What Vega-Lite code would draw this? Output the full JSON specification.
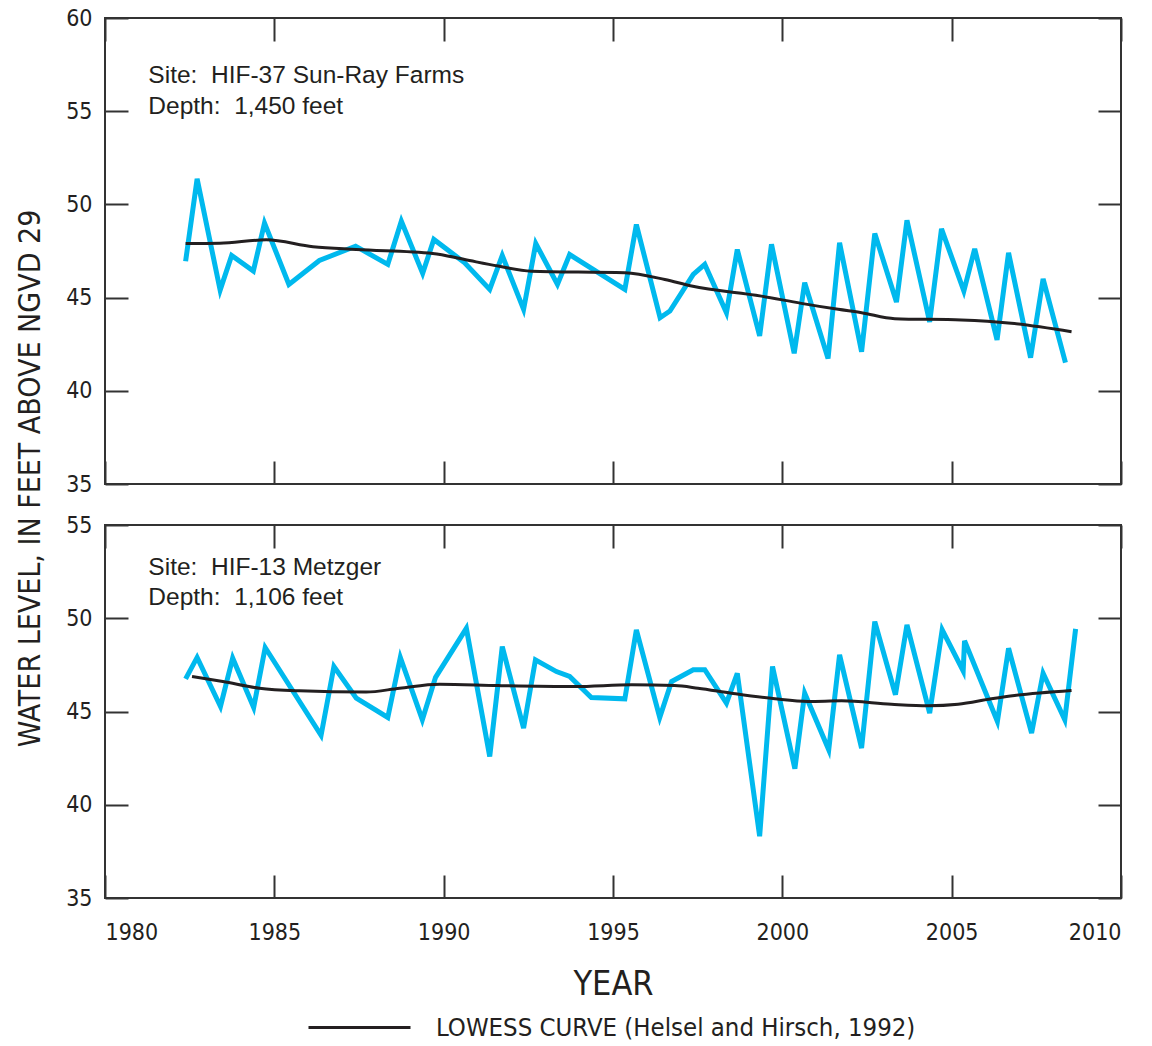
{
  "$schema": "https://vega.github.io/schema/vega-lite/v6.json",
  "background": "white",
  "padding": {"left": 14, "top": 6, "right": 20, "bottom": 0},
  "bounds": "flush",
  "spacing": 41,
  "datasets": {
    "top": [
      {"year": 1982.38, "level": 46.95}, {"year": 1982.72, "level": 51.37}, {"year": 1983.40, "level": 45.40},
      {"year": 1983.74, "level": 47.26}, {"year": 1984.38, "level": 46.42}, {"year": 1984.71, "level": 49.00},
      {"year": 1985.43, "level": 45.71}, {"year": 1986.33, "level": 46.99}, {"year": 1987.40, "level": 47.76},
      {"year": 1988.35, "level": 46.78}, {"year": 1988.75, "level": 49.10}, {"year": 1989.38, "level": 46.30},
      {"year": 1989.71, "level": 48.12}, {"year": 1990.62, "level": 46.87}, {"year": 1991.36, "level": 45.44},
      {"year": 1991.73, "level": 47.26}, {"year": 1992.36, "level": 44.37}, {"year": 1992.72, "level": 47.90},
      {"year": 1993.36, "level": 45.71}, {"year": 1993.72, "level": 47.31}, {"year": 1995.35, "level": 45.44},
      {"year": 1995.69, "level": 48.92}, {"year": 1996.39, "level": 43.92}, {"year": 1996.68, "level": 44.28},
      {"year": 1997.37, "level": 46.24}, {"year": 1997.71, "level": 46.78}, {"year": 1998.35, "level": 44.19},
      {"year": 1998.67, "level": 47.58}, {"year": 1999.33, "level": 42.94}, {"year": 1999.68, "level": 47.86},
      {"year": 2000.35, "level": 42.01}, {"year": 2000.66, "level": 45.80}, {"year": 2001.35, "level": 41.73},
      {"year": 2001.69, "level": 47.94}, {"year": 2002.34, "level": 42.10}, {"year": 2002.73, "level": 48.44},
      {"year": 2003.37, "level": 44.76}, {"year": 2003.68, "level": 49.15}, {"year": 2004.35, "level": 43.69},
      {"year": 2004.70, "level": 48.69}, {"year": 2005.36, "level": 45.35}, {"year": 2005.68, "level": 47.62},
      {"year": 2006.34, "level": 42.73}, {"year": 2006.68, "level": 47.40}, {"year": 2007.33, "level": 41.78},
      {"year": 2007.70, "level": 46.01}, {"year": 2008.36, "level": 41.51}
    ],
    "topLowess": [
      {"year": 1982.38, "level": 47.90}, {"year": 1983.39, "level": 47.92}, {"year": 1984.76, "level": 48.10},
      {"year": 1986.14, "level": 47.73}, {"year": 1987.42, "level": 47.58}, {"year": 1989.68, "level": 47.37},
      {"year": 1990.62, "level": 47.04}, {"year": 1991.61, "level": 46.69}, {"year": 1992.59, "level": 46.42},
      {"year": 1995.35, "level": 46.33}, {"year": 1996.53, "level": 45.97}, {"year": 1997.32, "level": 45.62},
      {"year": 1999.38, "level": 45.08}, {"year": 2000.56, "level": 44.69}, {"year": 2001.65, "level": 44.37},
      {"year": 2002.34, "level": 44.19}, {"year": 2003.32, "level": 43.87}, {"year": 2005.29, "level": 43.80},
      {"year": 2006.76, "level": 43.62}, {"year": 2008.54, "level": 43.17}
    ],
    "bottom": [
      {"year": 1982.38, "level": 46.75}, {"year": 1982.72, "level": 47.90}, {"year": 1983.41, "level": 45.27},
      {"year": 1983.77, "level": 47.86}, {"year": 1984.39, "level": 45.22}, {"year": 1984.73, "level": 48.43},
      {"year": 1986.38, "level": 43.72}, {"year": 1986.76, "level": 47.41}, {"year": 1987.42, "level": 45.72},
      {"year": 1988.35, "level": 44.68}, {"year": 1988.72, "level": 47.90}, {"year": 1989.37, "level": 44.56},
      {"year": 1989.76, "level": 46.83}, {"year": 1990.67, "level": 49.46}, {"year": 1991.36, "level": 42.59},
      {"year": 1991.73, "level": 48.48}, {"year": 1992.36, "level": 44.11}, {"year": 1992.71, "level": 47.77},
      {"year": 1993.33, "level": 47.14}, {"year": 1993.72, "level": 46.88}, {"year": 1994.36, "level": 45.75},
      {"year": 1995.35, "level": 45.68}, {"year": 1995.69, "level": 49.38}, {"year": 1996.38, "level": 44.68},
      {"year": 1996.73, "level": 46.61}, {"year": 1997.37, "level": 47.24}, {"year": 1997.71, "level": 47.24},
      {"year": 1998.35, "level": 45.45}, {"year": 1998.67, "level": 47.05}, {"year": 1999.33, "level": 38.31},
      {"year": 1999.71, "level": 47.41}, {"year": 2000.37, "level": 41.93}, {"year": 2000.66, "level": 45.98},
      {"year": 2001.37, "level": 42.95}, {"year": 2001.69, "level": 48.04}, {"year": 2002.34, "level": 43.04},
      {"year": 2002.73, "level": 49.82}, {"year": 2003.34, "level": 45.90}, {"year": 2003.68, "level": 49.64},
      {"year": 2004.35, "level": 44.91}, {"year": 2004.72, "level": 49.38}, {"year": 2005.34, "level": 47.18},
      {"year": 2005.38, "level": 48.79}, {"year": 2006.35, "level": 44.47}, {"year": 2006.68, "level": 48.39},
      {"year": 2007.36, "level": 43.84}, {"year": 2007.70, "level": 47.05}, {"year": 2008.34, "level": 44.56},
      {"year": 2008.66, "level": 49.43}
    ],
    "bottomLowess": [
      {"year": 1982.57, "level": 46.88}, {"year": 1983.48, "level": 46.61}, {"year": 1984.56, "level": 46.25},
      {"year": 1985.74, "level": 46.11}, {"year": 1987.71, "level": 46.04}, {"year": 1988.70, "level": 46.25},
      {"year": 1989.88, "level": 46.46}, {"year": 1991.61, "level": 46.39}, {"year": 1993.87, "level": 46.34},
      {"year": 1995.55, "level": 46.43}, {"year": 1996.82, "level": 46.39}, {"year": 1997.51, "level": 46.25},
      {"year": 1998.50, "level": 45.98}, {"year": 1999.78, "level": 45.68}, {"year": 2000.76, "level": 45.54},
      {"year": 2001.75, "level": 45.57}, {"year": 2003.22, "level": 45.39}, {"year": 2004.31, "level": 45.31},
      {"year": 2005.19, "level": 45.39}, {"year": 2006.17, "level": 45.68}, {"year": 2006.86, "level": 45.86},
      {"year": 2008.54, "level": 46.13}
    ],
    "one": [{}]
  },
  "vconcat": [
    {
      "width": 1016,
      "height": 466,
      "resolve": {"axis": {"x": "independent", "y": "independent"}},
      "layer": [
        {
          "data": {"name": "top"},
          "mark": {"type": "line", "color": "#00b9ee", "strokeWidth": 5, "strokeJoin": "miter"},
          "encoding": {
            "x": {"field": "year", "type": "quantitative", "scale": {"domain": [1980, 2010], "nice": false, "zero": false},
                  "axis": {"orient": "bottom", "values": [1980, 1985, 1990, 1995, 2000, 2005, 2010], "labels": false, "title": null}},
            "y": {"field": "level", "type": "quantitative", "scale": {"domain": [35, 60], "nice": false, "zero": false},
                  "axis": {"orient": "left", "values": [35, 40, 45, 50, 55, 60], "title": "WATER LEVEL, IN FEET ABOVE NGVD 29", "titleY": 460, "titlePadding": 20, "titleFontSize": 30}}
          }
        },
        {
          "data": {"name": "topLowess"},
          "mark": {"type": "line", "strokeWidth": 3, "interpolate": "monotone"},
          "encoding": {
            "x": {"field": "year", "type": "quantitative", "scale": {"domain": [1980, 2010], "nice": false, "zero": false},
                  "axis": {"orient": "top", "values": [1980, 1985, 1990, 1995, 2000, 2005, 2010], "labels": false, "title": null}},
            "y": {"field": "level", "type": "quantitative", "scale": {"domain": [35, 60], "nice": false, "zero": false},
                  "axis": {"orient": "right", "values": [35, 40, 45, 50, 55, 60], "labels": false, "title": null}},
            "color": {"datum": "LOWESS CURVE (Helsel and Hirsch, 1992)", "type": "nominal",
                      "scale": {"domain": ["LOWESS CURVE (Helsel and Hirsch, 1992)"], "range": ["#231f20"]}}
          }
        },
        {
          "data": {"name": "one"},
          "mark": {"type": "text", "align": "left", "baseline": "alphabetic", "font": "Liberation Sans", "fontSize": 24.5, "color": "#231f20"},
          "encoding": {
            "x": {"datum": 1981.28, "type": "quantitative", "axis": null},
            "y": {"datum": 56.53, "type": "quantitative", "axis": null},
            "text": {"value": "Site:\u00a0 HIF-37 Sun-Ray Farms"}
          }
        },
        {
          "data": {"name": "one"},
          "mark": {"type": "text", "align": "left", "baseline": "alphabetic", "font": "Liberation Sans", "fontSize": 24.5, "color": "#231f20"},
          "encoding": {
            "x": {"datum": 1981.28, "type": "quantitative", "axis": null},
            "y": {"datum": 54.87, "type": "quantitative", "axis": null},
            "text": {"value": "Depth:\u00a0 1,450 feet"}
          }
        }
      ]
    },
    {
      "width": 1016,
      "height": 373,
      "resolve": {"axis": {"x": "independent", "y": "independent"}},
      "layer": [
        {
          "data": {"name": "bottom"},
          "mark": {"type": "line", "color": "#00b9ee", "strokeWidth": 5, "strokeJoin": "miter"},
          "encoding": {
            "x": {"field": "year", "type": "quantitative", "scale": {"domain": [1980, 2010], "nice": false, "zero": false},
                  "axis": {"orient": "bottom", "values": [1980, 1985, 1990, 1995, 2000, 2005, 2010], "format": "d", "title": "YEAR"}},
            "y": {"field": "level", "type": "quantitative", "scale": {"domain": [35, 55], "nice": false, "zero": false},
                  "axis": {"orient": "left", "values": [35, 40, 45, 50, 55], "title": null}}
          }
        },
        {
          "data": {"name": "bottomLowess"},
          "mark": {"type": "line", "strokeWidth": 3, "interpolate": "monotone"},
          "encoding": {
            "x": {"field": "year", "type": "quantitative", "scale": {"domain": [1980, 2010], "nice": false, "zero": false},
                  "axis": {"orient": "top", "values": [1980, 1985, 1990, 1995, 2000, 2005, 2010], "labels": false, "title": null}},
            "y": {"field": "level", "type": "quantitative", "scale": {"domain": [35, 55], "nice": false, "zero": false},
                  "axis": {"orient": "right", "values": [35, 40, 45, 50, 55], "labels": false, "title": null}},
            "color": {"datum": "LOWESS CURVE (Helsel and Hirsch, 1992)", "type": "nominal",
                      "scale": {"domain": ["LOWESS CURVE (Helsel and Hirsch, 1992)"], "range": ["#231f20"]}}
          }
        },
        {
          "data": {"name": "one"},
          "mark": {"type": "text", "align": "left", "baseline": "alphabetic", "font": "Liberation Sans", "fontSize": 24.5, "color": "#231f20"},
          "encoding": {
            "x": {"datum": 1981.28, "type": "quantitative", "axis": null},
            "y": {"datum": 52.32, "type": "quantitative", "axis": null},
            "text": {"value": "Site:\u00a0 HIF-13 Metzger"}
          }
        },
        {
          "data": {"name": "one"},
          "mark": {"type": "text", "align": "left", "baseline": "alphabetic", "font": "Liberation Sans", "fontSize": 24.5, "color": "#231f20"},
          "encoding": {
            "x": {"datum": 1981.28, "type": "quantitative", "axis": null},
            "y": {"datum": 50.72, "type": "quantitative", "axis": null},
            "text": {"value": "Depth:\u00a0 1,106 feet"}
          }
        }
      ]
    }
  ],
  "config": {
    "view": {"stroke": "#333333", "strokeWidth": 2},
    "axis": {
      "grid": false,
      "domain": false,
      "tickColor": "#333333",
      "tickWidth": 2,
      "tickSize": -23,
      "labelFont": "DejaVu Sans Condensed",
      "labelFontSize": 23,
      "labelColor": "#231f20",
      "titleFont": "DejaVu Sans Condensed",
      "titleFontSize": 34,
      "titleFontWeight": "normal",
      "titleColor": "#231f20"
    },
    "axisX": {"labelPadding": 46, "titlePadding": 23},
    "axisY": {"labelPadding": 36},
    "legend": {
      "orient": "none",
      "legendX": 236,
      "legendY": 991,
      "title": null,
      "symbolType": "M-3,0H3",
      "symbolSize": 1156,
      "symbolStrokeWidth": 3,
      "labelFont": "DejaVu Sans Condensed",
      "labelFontSize": 25.5,
      "labelColor": "#231f20",
      "labelOffset": 58,
      "labelLimit": 0
    }
  }
}
